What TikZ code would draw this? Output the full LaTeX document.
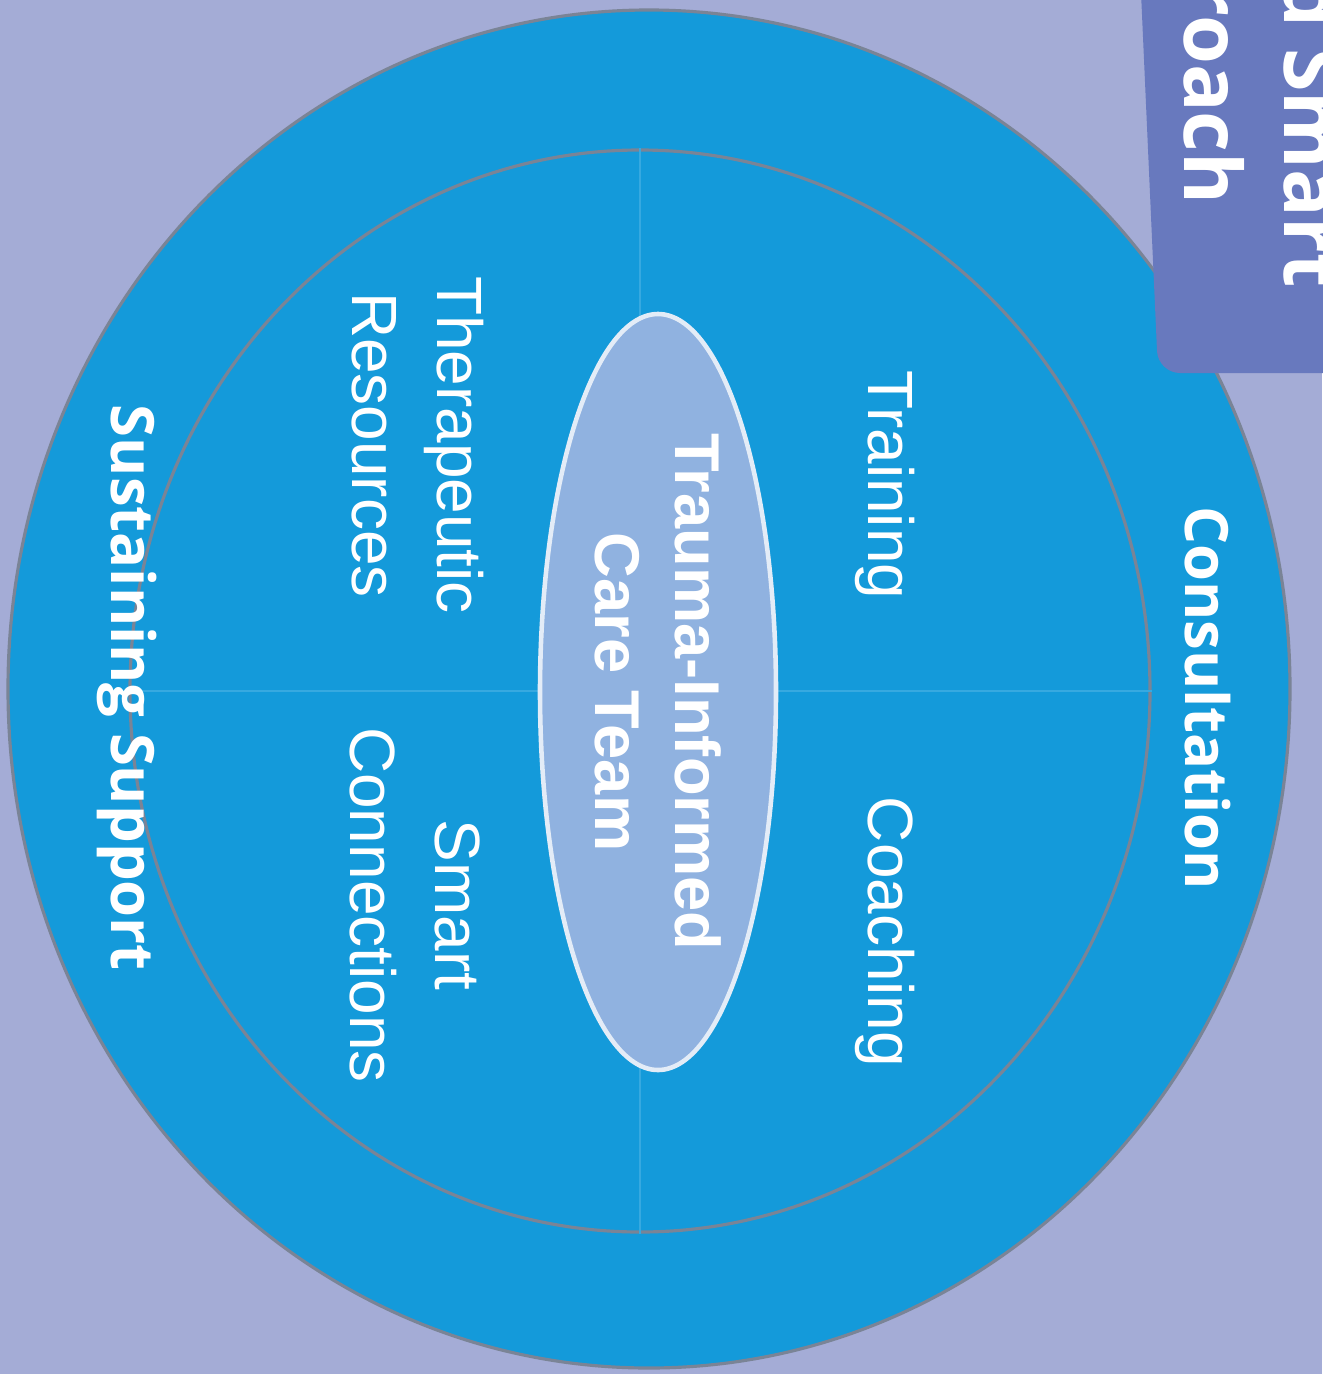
\documentclass[tikz,border=0pt]{standalone}
\usepackage{fontspec}
\setmainfont{Liberation Sans}
\newfontfamily\ringfont{Open Sans}
\usetikzlibrary{shapes.geometric}

\definecolor{paper}{RGB}{164,172,214}
\definecolor{disc}{RGB}{20,154,218}
\definecolor{rim}{RGB}{122,132,150}
\definecolor{hubfill}{RGB}{144,178,224}
\definecolor{tabblue}{RGB}{104,121,190}

\begin{document}
\begin{tikzpicture}[
	ring/.style={ellipse,draw=rim,line width=0.9pt,fill=disc,inner sep=0pt},
	hub/.style={ellipse,draw=white!75!hubfill,line width=1.3pt,fill=hubfill,inner sep=0pt,
		rotate=-90,minimum width=7.56cm,minimum height=2.36cm,text=white,align=center,
		font=\fontsize{18}{22.8}\selectfont\bfseries},
	item/.style={rotate=-90,text=white,align=center,font=\fontsize{18.2}{24.2}\selectfont},
	layer/.style={rotate=-90,anchor=base,text=white,font=\ringfont\fontsize{17}{20}\selectfont\bfseries},
	tabtext/.style={rotate=-90,anchor=base east,text=white,font=\ringfont\fontsize{22.5}{26}\selectfont\bfseries},
	divider/.style={draw=white!15!disc,line width=0.8pt}
]

\useasboundingbox (0,0) rectangle (13.22,-13.74);
\fill[paper] (0,0) rectangle (13.22,-13.74);

% rings
\node[ring,minimum width=12.82cm,minimum height=13.58cm] (outer) at (6.49,-6.89) {};
\node[ring,minimum width=10.20cm,minimum height=10.82cm] (inner) at (6.40,-6.91) {};

\draw[divider] (inner.north) -- (inner.south);
\draw[divider] (inner.west) -- (inner.east);

\node[hub] (team) at (6.58,-6.92) {Trauma-Informed\\Care Team};

% quadrants
\node[item] (training)  at (8.85,-4.85) {Training};
\node[item] (coaching)  at (8.85,-9.32) {Coaching};
\node[item] (therapy)   at (4.18,-4.45) {Therapeutic\\Resources};
\node[item] (connect)   at (4.15,-9.05) {Smart\\Connections};

% outer layer
\node[layer] (consult) at (11.85,-6.98) {Consultation};
\node[layer] (sustain) at (1.12,-6.88) {Sustaining Support};

% title tab
\fill[tabblue,rounded corners=0.22cm] (11.40,0.3) -- (11.58,-3.73) -- (13.5,-3.73) -- (13.5,0.3) -- cycle;
\node[tabtext] (title1) at (12.84,-3.0) {and Smart};
\node[tabtext] (title2) at (11.84,-2.17) {Approach};

\end{tikzpicture}
\end{document}
